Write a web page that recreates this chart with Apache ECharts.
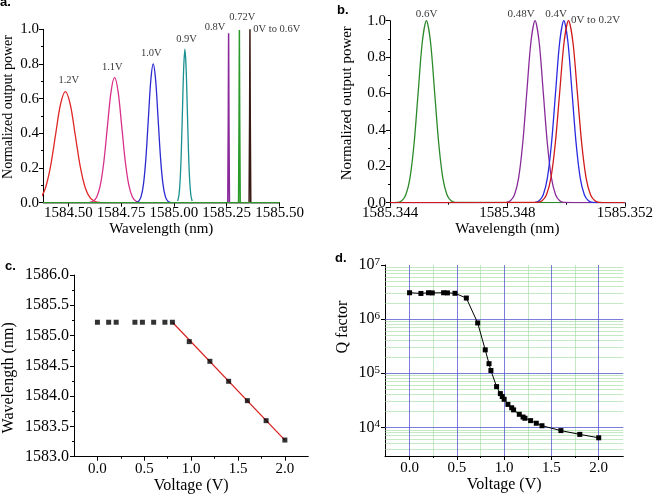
<!DOCTYPE html>
<html><head><meta charset="utf-8">
<script src="https://cdn.jsdelivr.net/npm/echarts@6/dist/echarts.min.js"></script>
<style>html,body{margin:0;padding:0;background:#fff}#c{width:656px;height:499px}</style>
</head><body><div id="c"></div>
<script>
// ---------- Panel a : spectra, 0.6 V .. 1.2 V ----------
const a_12V = [[1584.3215,0.0014],[1584.345,0.0071],[1584.3685,0.0281],[1584.392,0.0866],[1584.4155,0.2078],[1584.439,0.3882],[1584.4625,0.5648],[1584.486,0.64],[1584.5095,0.5648],[1584.533,0.3882],[1584.5565,0.2078],[1584.58,0.0866],[1584.6035,0.0281],[1584.627,0.0071],[1584.6505,0.0014]];
const a_11V = [[1584.600,0.0016],[1584.617,0.008],[1584.634,0.0317],[1584.651,0.0978],[1584.668,0.2348],[1584.685,0.4385],[1584.702,0.638],[1584.719,0.723],[1584.736,0.638],[1584.753,0.4385],[1584.770,0.2348],[1584.787,0.0978],[1584.804,0.0317],[1584.821,0.008],[1584.838,0.0016]];
const a_10V = [[1584.8215,0.0018],[1584.833,0.0089],[1584.8445,0.0351],[1584.856,0.1082],[1584.8675,0.2598],[1584.879,0.4852],[1584.8905,0.706],[1584.902,0.80],[1584.9135,0.706],[1584.925,0.4852],[1584.9365,0.2598],[1584.948,0.1082],[1584.9595,0.0351],[1584.971,0.0089],[1584.9825,0.0018]];
const a_09V = [[1585.0175,0.0098],[1585.02325,0.0386],[1585.029,0.1191],[1585.03475,0.2857],[1585.0405,0.5337],[1585.04625,0.7766],[1585.052,0.885],[1585.05775,0.7766],[1585.0635,0.5337],[1585.06925,0.2857],[1585.075,0.1191],[1585.08075,0.0386],[1585.0865,0.0098]];
const a_08V = [[1584.38,0],[1585.255,0],[1585.2575,0.5],[1585.259,0.977],[1585.2605,0.5],[1585.263,0],[1585.5,0]];
const a_072V = [[1584.38,0],[1585.306,0],[1585.3085,0.5],[1585.310,0.996],[1585.3115,0.5],[1585.314,0],[1585.5,0]];
const a_06V = [[1584.38,0],[1585.356,0],[1585.3585,0.5],[1585.360,1.0],[1585.3615,0.5],[1585.364,0],[1585.5,0]];
const aTickVals = [1584.5, 1584.75, 1585.0, 1585.25, 1585.5];
const annA_x = [1584.502, 1584.708, 1584.893, 1585.060, 1585.195, 1585.324, 1585.487];
const annA_y = [0.706, 0.784, 0.862, 0.942, 1.009, 1.071, 1.003];
const annA_t = ['1.2V','1.1V','1.0V','0.9V','0.8V','0.72V','0V to 0.6V'];

// ---------- Panel b : spectra, 0 V .. 0.6 V ----------
const b_06V = [[1585.344,0],[1585.34426,0.002],[1585.3444,0.011],[1585.34454,0.044],[1585.34468,0.135],[1585.34482,0.325],[1585.34496,0.607],[1585.3451,0.883],[1585.34524,1.0],[1585.34538,0.883],[1585.34552,0.607],[1585.34566,0.325],[1585.3458,0.135],[1585.34594,0.044],[1585.34608,0.011],[1585.34622,0.002],[1585.352,0]];
const b_048V = [[1585.344,0],[1585.34796,0.002],[1585.3481,0.011],[1585.34824,0.044],[1585.34838,0.135],[1585.34852,0.325],[1585.34866,0.607],[1585.3488,0.883],[1585.34894,1.0],[1585.34908,0.883],[1585.34922,0.607],[1585.34936,0.325],[1585.3495,0.135],[1585.34964,0.044],[1585.34978,0.011],[1585.34992,0.002],[1585.352,0]];
const b_04V = [[1585.344,0],[1585.34894,0.002],[1585.34908,0.011],[1585.34922,0.044],[1585.34936,0.135],[1585.3495,0.325],[1585.34964,0.607],[1585.34978,0.883],[1585.34992,1.0],[1585.35006,0.883],[1585.3502,0.607],[1585.35034,0.325],[1585.35048,0.135],[1585.35062,0.044],[1585.35076,0.011],[1585.3509,0.002],[1585.352,0]];
const b_0to02V = [[1585.344,0],[1585.34903,0.002],[1585.34918,0.011],[1585.34933,0.044],[1585.34948,0.135],[1585.34963,0.325],[1585.34978,0.607],[1585.34993,0.883],[1585.35008,1.0],[1585.35023,0.883],[1585.35038,0.607],[1585.35053,0.325],[1585.35068,0.135],[1585.35083,0.044],[1585.35098,0.011],[1585.35113,0.002],[1585.352,0]];
const annB_x = [1585.345247, 1585.348467, 1585.349657, 1585.351];
const annB_y = [1.037, 1.034, 1.037, 1.004];
const annB_t = ['0.6V','0.48V','0.4V','0V to 0.2V'];

// ---------- Panel c : resonance wavelength vs voltage ----------
const cVolt = [0, 0.12, 0.2, 0.4, 0.48, 0.6, 0.72, 0.8, 0.98, 1.2, 1.4, 1.6, 1.8, 2.0];
const cWl = [1585.22, 1585.22, 1585.22, 1585.22, 1585.22, 1585.22, 1585.22, 1585.22, 1584.90, 1584.575, 1584.245, 1583.925, 1583.595, 1583.275];
const cFitVolt = [0.8, 2.0];
const cFitWl = [1585.22, 1583.275];
const vTickVals = [0, 0.5, 1.0, 1.5, 2.0];
const vMinorVals = [0.25, 0.75, 1.25, 1.75];

// ---------- Panel d : Q factor vs voltage ----------
const dVolt = [0, 0.12, 0.2, 0.24, 0.36, 0.4, 0.48, 0.6, 0.72, 0.8, 0.84, 0.86, 0.92, 0.96, 0.98, 1.0, 1.04, 1.08, 1.1, 1.16, 1.2, 1.22, 1.28, 1.34, 1.4, 1.6, 1.8, 2.0];
const dQ = [3.07e6, 2.98e6, 3.07e6, 3.05e6, 3.07e6, 3.05e6, 3.0e6, 2.45e6, 8.5e5, 2.7e5, 1.5e5, 1.12e5, 5.65e4, 4.2e4, 3.7e4, 3.3e4, 2.65e4, 2.3e4, 2.1e4, 1.74e4, 1.55e4, 1.47e4, 1.33e4, 1.19e4, 1.07e4, 8.7e3, 7.4e3, 6.4e3];
const dMajorQ = [1e4, 1e5, 1e6];
const dMinorQ = [4e3,5e3,6e3,7e3,8e3,9e3,2e4,3e4,4e4,5e4,6e4,7e4,8e4,9e4,2e5,3e5,4e5,5e5,6e5,7e5,8e5,9e5,2e6,3e6,4e6,5e6,6e6,7e6,8e6,9e6];

const SERIF = '"Liberation Serif","Times New Roman",serif';
const txt = (size) => ({color:'#000', fontFamily:SERIF, fontSize:size});

function valAxis(gi, extra) {
  return Object.assign({
    gridIndex: gi, type: 'value', position: 'bottom',
    axisLine: {show: true, onZero: false, lineStyle: {color: '#000', width: 1}},
    axisTick: {show: true, inside: false, length: 4, lineStyle: {color: '#000'}},
    minorTick: {show: false},
    splitLine: {show: false},
    axisLabel: Object.assign({margin: 4}, txt(15)),
    nameLocation: 'middle',
    nameTextStyle: txt(15)
  }, extra);
}
function yAxisCfg(gi, extra) {
  return valAxis(gi, Object.assign({position: 'left'}, extra));
}

const chart = echarts.init(document.getElementById('c'), null, {renderer: 'canvas'});
const option = {
  animation: false,
  backgroundColor: '#fff',
  grid: [
    {left: 42.7, top: 29.3, width: 236.8, height: 173.4},
    {left: 390, top: 20.7, width: 240, height: 182},
    {left: 73.3, top: 275, width: 235, height: 181.7},
    {left: 385, top: 265, width: 238.3, height: 191}
  ],
  xAxis: [
    valAxis(0, {min: 1584.38, max: 1585.5,
      axisTick: {show: true, length: 4, customValues: aTickVals, lineStyle: {color: '#000'}},
      axisLabel: Object.assign({margin: 3, customValues: aTickVals, formatter: v => v.toFixed(2)}, txt(15)),
      name: 'Wavelength (nm)', nameGap: 19}),
    valAxis(1, {min: 1585.344, max: 1585.352, interval: 0.004,
      minorTick: {show: true, splitNumber: 2, length: 2, lineStyle: {color: '#000'}},
      axisLabel: Object.assign({margin: 3, formatter: v => v.toFixed(3)}, txt(15)),
      name: 'Wavelength (nm)', nameGap: 19}),
    valAxis(2, {min: -0.25, max: 2.25,
      axisTick: {show: true, length: 4, customValues: vTickVals, lineStyle: {color: '#000'}},
      axisLabel: Object.assign({margin: 5, customValues: vTickVals, formatter: v => v.toFixed(1)}, txt(15)),
      name: 'Voltage (V)', nameGap: 17, nameTextStyle: txt(16)}),
    valAxis(3, {min: -0.26, max: 2.26,
      axisTick: {show: true, length: 4, customValues: vTickVals, lineStyle: {color: '#000'}},
      axisLabel: Object.assign({margin: 5, customValues: vTickVals, formatter: v => v.toFixed(1)}, txt(15)),
      name: 'Voltage (V)', nameGap: 15, nameTextStyle: txt(16)}),
    valAxis(2, {min: -0.25, max: 2.25, axisLine: {show: false},
      axisTick: {show: true, length: 2, customValues: vMinorVals, lineStyle: {color: '#000'}},
      axisLabel: {show: false}}),
    valAxis(3, {min: -0.26, max: 2.26, axisLine: {show: false},
      axisTick: {show: true, length: 2, customValues: vMinorVals, lineStyle: {color: '#000'}},
      axisLabel: {show: false}})
  ],
  yAxis: [
    yAxisCfg(0, {min: 0, max: 1, interval: 0.2,
      minorTick: {show: true, splitNumber: 2, length: 2, lineStyle: {color: '#000'}},
      axisLabel: Object.assign({margin: 4, formatter: v => v.toFixed(1)}, txt(15)),
      name: 'Normalized output power', nameGap: 28,
      nameTextStyle: Object.assign({padding: [0, 0, 0, 18]}, txt(14))}),
    yAxisCfg(1, {min: 0, max: 1, interval: 0.2,
      minorTick: {show: true, splitNumber: 2, length: 2, lineStyle: {color: '#000'}},
      axisLabel: Object.assign({margin: 4, formatter: v => v.toFixed(1)}, txt(15)),
      name: 'Normalized output power', nameGap: 35,
      nameTextStyle: Object.assign({padding: [0, 0, 0, 17]}, txt(15))}),
    yAxisCfg(2, {min: 1583, max: 1586, interval: 0.5,
      minorTick: {show: true, splitNumber: 2, length: 2, lineStyle: {color: '#000'}},
      axisLabel: Object.assign({margin: 5, formatter: v => v.toFixed(1)}, txt(16)),
      name: 'Wavelength (nm)', nameGap: 57,
      nameTextStyle: Object.assign({padding: [0, 24, 0, 0]}, txt(16))}),
    {gridIndex: 3, type: 'log', logBase: 10, min: 2950, max: 1e7, position: 'left',
      axisLine: {show: true, onZero: false, lineStyle: {color: '#000'}},
      axisTick: {show: true, length: 4, lineStyle: {color: '#000'}},
      splitLine: {show: false},
      axisLabel: {margin: 5, showMinLabel: false,
        formatter: v => '{b|10}{s|' + Math.round(Math.log10(v)) + '}',
        rich: {b: txt(16), s: Object.assign({verticalAlign: 'top', padding: [0, 0, 6, 0]}, txt(11))}}}
  ],
  series: [
    // panel a
    {type: 'line', xAxisIndex: 0, yAxisIndex: 0, data: a_12V, smooth: 0.3, showSymbol: false, lineStyle: {color: '#e02828', width: 1.3}, z: 3},
    {type: 'line', xAxisIndex: 0, yAxisIndex: 0, data: a_11V, smooth: 0.3, showSymbol: false, lineStyle: {color: '#d8308a', width: 1.3}, z: 3},
    {type: 'line', xAxisIndex: 0, yAxisIndex: 0, data: a_10V, smooth: 0.3, showSymbol: false, lineStyle: {color: '#2a2ad0', width: 1.3}, z: 3},
    {type: 'line', xAxisIndex: 0, yAxisIndex: 0, data: a_09V, smooth: 0.3, showSymbol: false, lineStyle: {color: '#1a9090', width: 1.3}, z: 3},
    {type: 'line', xAxisIndex: 0, yAxisIndex: 0, data: a_08V, showSymbol: false, lineStyle: {color: '#8a2a9a', width: 1.5}, z: 3},
    {type: 'line', xAxisIndex: 0, yAxisIndex: 0, data: a_06V, showSymbol: false, lineStyle: {color: '#3a1a14', width: 1.5}, z: 3},
    {type: 'line', xAxisIndex: 0, yAxisIndex: 0, data: a_072V, showSymbol: false, lineStyle: {color: '#2a9a2a', width: 1.5}, z: 3},
    {type: 'scatter', xAxisIndex: 0, yAxisIndex: 0, clip: false, symbolSize: 0, z: 5,
      data: annA_t.map((t, i) => ({name: t, value: [annA_x[i], annA_y[i]]})),
      label: Object.assign({show: true, position: 'inside', formatter: p => p.name}, txt(10.5))},
    // panel b
    {type: 'line', xAxisIndex: 1, yAxisIndex: 1, data: b_06V, smooth: 0.3, showSymbol: false, lineStyle: {color: '#2a8a2a', width: 1.3}, z: 3},
    {type: 'line', xAxisIndex: 1, yAxisIndex: 1, data: b_048V, smooth: 0.3, showSymbol: false, lineStyle: {color: '#8a2a9a', width: 1.3}, z: 3},
    {type: 'line', xAxisIndex: 1, yAxisIndex: 1, data: b_04V, smooth: 0.3, showSymbol: false, lineStyle: {color: '#2a2ae0', width: 1.3}, z: 3},
    {type: 'line', xAxisIndex: 1, yAxisIndex: 1, data: b_0to02V, smooth: 0.3, showSymbol: false, lineStyle: {color: '#d01a1a', width: 1.3}, z: 3},
    {type: 'scatter', xAxisIndex: 1, yAxisIndex: 1, clip: false, symbolSize: 0, z: 5,
      data: annB_t.map((t, i) => ({name: t, value: [annB_x[i], annB_y[i]]})),
      label: Object.assign({show: true, position: 'inside', formatter: p => p.name}, txt(11))},
    // panel c
    {type: 'line', xAxisIndex: 2, yAxisIndex: 2, data: cFitVolt.map((v, i) => [v, cFitWl[i]]), showSymbol: false, lineStyle: {color: '#d82020', width: 1.2}, z: 3},
    {type: 'scatter', xAxisIndex: 2, yAxisIndex: 2, data: cVolt.map((v, i) => [v, cWl[i]]), symbol: 'rect', symbolSize: 5, itemStyle: {color: '#000'}, z: 4},
    // panel d: grid lines
    {type: 'line', xAxisIndex: 3, yAxisIndex: 3, data: dVolt.map((v, i) => [v, dQ[i]]), showSymbol: false, lineStyle: {opacity: 0}, z: 1,
      markLine: {silent: true, symbol: ['none', 'none'], label: {show: false}, animation: false,
        lineStyle: {type: 'solid', width: 1, color: 'rgba(150,215,150,0.55)'},
        emphasis: {disabled: true},
        data: [].concat(
          dMinorQ.map(v => ({yAxis: v})),
          vMinorVals.map(v => ({xAxis: v})),
          dMajorQ.map(v => ({yAxis: v, lineStyle: {color: 'rgba(80,80,210,0.75)', type: 'solid', width: 1}})),
          vTickVals.map(v => ({xAxis: v, lineStyle: {color: 'rgba(80,80,210,0.75)', type: 'solid', width: 1}}))
        )}},
    {type: 'line', xAxisIndex: 3, yAxisIndex: 3, data: dVolt.map((v, i) => [v, dQ[i]]), symbol: 'rect', symbolSize: 5, showSymbol: true,
      lineStyle: {color: '#000', width: 1}, itemStyle: {color: '#000'}, z: 10}
  ],
  graphic: [
    {type: 'text', left: 0, top: -4, style: {text: 'a.', font: 'bold 13px "Liberation Sans", Arial, sans-serif', fill: '#000'}},
    {type: 'text', left: 337, top: 4, style: {text: 'b.', font: 'bold 13px "Liberation Sans", Arial, sans-serif', fill: '#000'}},
    {type: 'text', left: 5, top: 260, style: {text: 'c.', font: 'bold 13px "Liberation Sans", Arial, sans-serif', fill: '#000'}},
    {type: 'text', left: 335, top: 252, style: {text: 'd.', font: 'bold 13px "Liberation Sans", Arial, sans-serif', fill: '#000'}},
    {type: 'text', x: 343, y: 327, rotation: Math.PI / 2,
      style: {text: 'Q factor', font: '16px "Liberation Serif","Times New Roman",serif', fill: '#000', align: 'center', verticalAlign: 'middle'}}
  ]
};
chart.setOption(option);
</script>
</body></html>
